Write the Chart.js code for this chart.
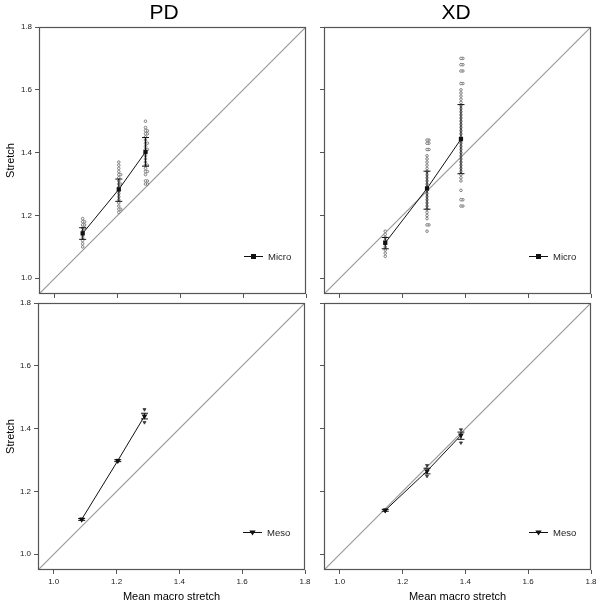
<!DOCTYPE html>
<html>
<head>
<meta charset="utf-8">
<script src="https://cdn.jsdelivr.net/npm/chart.js@4.4.1/dist/chart.umd.min.js"></script>
<style>
    html, body { margin: 0; padding: 0; background: #fff; }
    #wrap { position: relative; width: 602px; height: 606px; }
    canvas { position: absolute; left: 0; top: 0; }
</style>
</head>
<body>
<div id="wrap">
    <canvas id="pdMicro" width="602" height="606"></canvas>
    <canvas id="xdMicro" width="602" height="606"></canvas>
    <canvas id="pdMeso" width="602" height="606"></canvas>
    <canvas id="xdMeso" width="602" height="606"></canvas>
</div>
<script>
// DATA -----------------------------------------------------------------------

const axisTicks = [1.0, 1.2, 1.4, 1.6, 1.8]
const axisRange = [0.95, 1.8]

// mean macro stretch per load step
const macroPD = [1.089, 1.204, 1.289]
const macroXD = [1.145, 1.278, 1.386]

// Micro, PD
const pdMicroMean = [1.143, 1.283, 1.402]
const pdMicroLow = [1.124, 1.245, 1.357]
const pdMicroHigh = [1.161, 1.316, 1.448]
const pdMicroPoints = [
    [1.10, 1.11, 1.12, 1.13, 1.14, 1.15, 1.16, 1.17, 1.18, 1.19],
    [1.21, 1.22, 1.23, 1.24, 1.25, 1.26, 1.27, 1.28, 1.29, 1.30, 1.31, 1.32, 1.33, 1.34, 1.35, 1.36, 1.37],
    [1.30, 1.31, 1.33, 1.34, 1.35, 1.36, 1.37, 1.38, 1.39, 1.40, 1.41, 1.42, 1.43, 1.44, 1.45, 1.46, 1.47, 1.48, 1.50]
]
const pdMicroPairs = [
    [1.16, 1.17, 1.18],
    [1.22, 1.30, 1.33],
    [1.30, 1.31, 1.34, 1.36, 1.41, 1.43, 1.46, 1.47]
]

// Micro, XD
const xdMicroMean = [1.113, 1.286, 1.443]
const xdMicroLow = [1.094, 1.220, 1.333]
const xdMicroHigh = [1.130, 1.341, 1.553]
const xdMicroPoints = [
    [1.07, 1.08, 1.09, 1.10, 1.11, 1.12, 1.13, 1.14, 1.15],
    [1.15, 1.17, 1.19, 1.20, 1.21, 1.22, 1.23, 1.24, 1.25, 1.26, 1.27, 1.28, 1.29, 1.30, 1.31, 1.32,
        1.33, 1.34, 1.35, 1.36, 1.37, 1.38, 1.39, 1.41, 1.43, 1.44],
    [1.23, 1.25, 1.28, 1.31, 1.32, 1.33, 1.34, 1.35, 1.36, 1.37, 1.38, 1.39, 1.40, 1.41, 1.42, 1.43,
        1.44, 1.45, 1.46, 1.47, 1.48, 1.49, 1.50, 1.51, 1.52, 1.53, 1.54, 1.55, 1.56, 1.57, 1.58,
        1.59, 1.60, 1.62, 1.66, 1.68, 1.70]
]
const xdMicroPairs = [
    [],
    [1.17, 1.41, 1.43, 1.44],
    [1.23, 1.25, 1.62, 1.66, 1.68, 1.70]
]

// Meso, PD
const pdMesoMean = [1.111, 1.298, 1.440]
const pdMesoLow = [1.108, 1.295, 1.431]
const pdMesoHigh = [1.114, 1.301, 1.449]
const pdMesoPoints = [[1.109, 1.113], [1.296, 1.300], [1.420, 1.461]]

// Meso, XD
const xdMesoMean = [1.140, 1.265, 1.379]
const xdMesoLow = [1.137, 1.256, 1.366]
const xdMesoHigh = [1.143, 1.274, 1.389]
const xdMesoPoints = [[1.138, 1.142], [1.249, 1.283], [1.355, 1.397]]

// SETTINGS -------------------------------------------------------------------

const FONT = "'Liberation Sans', Arial, sans-serif"
const INK = '#111'
const FRAME = '#555'

// PLUGIN: frame, legend and panel heading -------------------------------------

const panelDecor = {
    id: 'panelDecor',
    afterDraw(chart, args, opts) {
        const {ctx, chartArea: a} = chart
        ctx.save()
        ctx.strokeStyle = FRAME
        ctx.lineWidth = 1.2
        ctx.strokeRect(a.left + 0.5, a.top + 0.5, a.right - a.left - 1, a.bottom - a.top - 1)

        // legend
        const ly = a.bottom - 37.5
        ctx.strokeStyle = INK
        ctx.lineWidth = 1
        ctx.beginPath()
        ctx.moveTo(a.right - 62, ly)
        ctx.lineTo(a.right - 43, ly)
        ctx.stroke()
        ctx.fillStyle = INK
        const mx = a.right - 52.5
        if (opts.marker === 'rect') {
            ctx.fillRect(mx - 2.5, ly - 2.5, 5, 5)
        } else {
            ctx.beginPath()
            ctx.moveTo(mx - 3.2, ly - 2)
            ctx.lineTo(mx + 3.2, ly - 2)
            ctx.lineTo(mx, ly + 3)
            ctx.closePath()
            ctx.fill()
        }
        ctx.font = `9.5px ${FONT}`
        ctx.textAlign = 'left'
        ctx.textBaseline = 'middle'
        ctx.fillStyle = '#222'
        ctx.fillText(opts.label, a.right - 38, ly + 0.5)

        // heading
        if (opts.heading) {
            ctx.font = `21px ${FONT}`
            ctx.textAlign = 'center'
            ctx.fillStyle = '#000'
            ctx.fillText(opts.heading, opts.headingX, 13)
        }
        ctx.restore()
    }
}

// DATASET OBJECTS --------------------------------------------------------------

function getPointsDataset(macro, cols, dx, marker) {
    const data = []
    cols.forEach((col, i) => col.forEach(v => data.push({x: macro[i] + dx, y: v})))
    const meso = marker !== 'rect'
    return {
        type: 'scatter',
        data: data,
        pointStyle: meso ? 'triangle' : 'circle',
        rotation: meso ? 180 : 0,
        radius: meso ? 1.8 : 1.3,
        backgroundColor: meso ? '#333' : '#fff',
        borderColor: meso ? '#333' : '#555',
        borderWidth: 0.7
    }
}

function getErrorDatasets(macro, low, high) {
    const bars = []
    const caps = []
    macro.forEach((x, i) => {
        bars.push({x: x, y: low[i]}, {x: x, y: high[i]}, {x: x, y: null})
        caps.push({x: x, y: low[i]}, {x: x, y: high[i]})
    })
    return [{
        type: 'line',
        data: bars,
        borderColor: INK,
        borderWidth: 1,
        pointRadius: 0,
        spanGaps: false
    }, {
        type: 'scatter',
        data: caps,
        pointStyle: 'line',
        radius: 3.5,
        borderColor: INK,
        borderWidth: 1
    }]
}

function getMeanDataset(macro, mean, marker) {
    const rect = marker === 'rect'
    return {
        type: 'line',
        data: macro.map((x, i) => ({x: x, y: mean[i]})),
        borderColor: INK,
        borderWidth: 1,
        backgroundColor: INK,
        pointStyle: rect ? 'rect' : 'triangle',
        rotation: rect ? 0 : 180,
        pointRadius: rect ? 3 : 3.3,
        pointBorderWidth: 0
    }
}

function getDiagonalDataset() {
    return {
        type: 'line',
        data: axisRange.map(v => ({x: v, y: v})),
        borderColor: '#999',
        borderWidth: 1.2,
        pointRadius: 0
    }
}

// CHARTS -----------------------------------------------------------------------

function showPanel(p) {
    const datasets = [getMeanDataset(p.macro, p.mean, p.marker)]
        .concat(getErrorDatasets(p.macro, p.low, p.high))
        .concat([getPointsDataset(p.macro, p.points, 0, p.marker)])
    if (p.pairs) datasets.push(getPointsDataset(p.macro, p.pairs, 0.006, p.marker))
    datasets.push(getDiagonalDataset())

    new Chart(document.getElementById(p.id), {
        type: 'scatter',
        data: {datasets: datasets},
        plugins: [panelDecor],
        options: {
            responsive: false,
            animation: false,
            events: [],
            layout: {padding: p.padding},
            plugins: {
                legend: {display: false},
                tooltip: {enabled: false},
                panelDecor: {label: p.label, marker: p.marker, heading: p.heading, headingX: p.headingX}
            },
            scales: {
                x: {
                    type: 'linear',
                    min: axisRange[0],
                    max: axisRange[1],
                    afterBuildTicks: s => { s.ticks = axisTicks.map(v => ({value: v})) },
                    afterFit: s => { s.height = p.xHeight },
                    border: {display: false},
                    grid: {drawOnChartArea: false, drawTicks: true, tickLength: 4, color: FRAME},
                    ticks: {
                        padding: 3,
                        maxRotation: 0,
                        autoSkip: false,
                        color: '#222',
                        font: {family: FONT, size: 8},
                        callback: v => p.xLabels ? v.toFixed(1) : ''
                    },
                    title: {
                        display: p.xLabels,
                        text: 'Mean macro stretch',
                        color: '#000',
                        font: {family: FONT, size: 11},
                        padding: {top: 0, bottom: 2}
                    }
                },
                y: {
                    type: 'linear',
                    min: axisRange[0],
                    max: axisRange[1],
                    afterBuildTicks: s => { s.ticks = axisTicks.map(v => ({value: v})) },
                    afterFit: s => { s.width = p.yWidth },
                    border: {display: false},
                    grid: {drawOnChartArea: false, drawTicks: true, tickLength: 4, color: FRAME},
                    ticks: {
                        padding: 3,
                        autoSkip: false,
                        color: '#222',
                        font: {family: FONT, size: 8},
                        callback: v => p.yLabels ? v.toFixed(1) : ''
                    },
                    title: {
                        display: p.yLabels,
                        text: 'Stretch',
                        color: '#000',
                        font: {family: FONT, size: 11},
                        padding: {top: 4, bottom: 0}
                    }
                }
            }
        }
    })
}

showPanel({
    id: 'pdMicro', macro: macroPD, mean: pdMicroMean, low: pdMicroLow, high: pdMicroHigh,
    points: pdMicroPoints, pairs: pdMicroPairs, marker: 'rect', label: 'Micro',
    heading: 'PD', headingX: 164,
    padding: {left: 0, top: 27, right: 296, bottom: 307},
    yWidth: 39, xHeight: 5, yLabels: true, xLabels: false
})

showPanel({
    id: 'xdMicro', macro: macroXD, mean: xdMicroMean, low: xdMicroLow, high: xdMicroHigh,
    points: xdMicroPoints, pairs: xdMicroPairs, marker: 'rect', label: 'Micro',
    heading: 'XD', headingX: 456,
    padding: {left: 318, top: 27, right: 11, bottom: 307},
    yWidth: 6, xHeight: 5, yLabels: false, xLabels: false
})

showPanel({
    id: 'pdMeso', macro: macroPD, mean: pdMesoMean, low: pdMesoLow, high: pdMesoHigh,
    points: pdMesoPoints, marker: 'tri', label: 'Meso',
    padding: {left: 0, top: 303, right: 297, bottom: 0},
    yWidth: 38, xHeight: 36, yLabels: true, xLabels: true
})

showPanel({
    id: 'xdMeso', macro: macroXD, mean: xdMesoMean, low: xdMesoLow, high: xdMesoHigh,
    points: xdMesoPoints, marker: 'tri', label: 'Meso',
    padding: {left: 318, top: 303, right: 11, bottom: 0},
    yWidth: 6, xHeight: 36, yLabels: false, xLabels: true
})
</script>
</body>
</html>
